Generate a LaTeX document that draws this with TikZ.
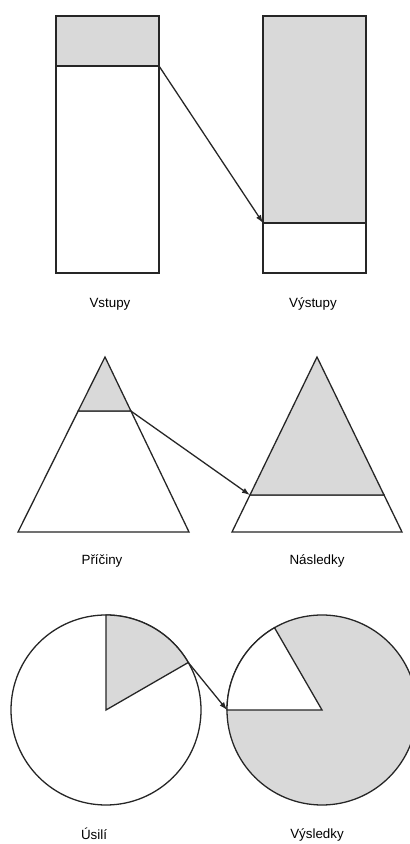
\documentclass[tikz,border=0pt]{standalone}
\usepackage{fontspec}
\setmainfont{Liberation Sans}
\usepackage{tikz}
\usetikzlibrary{arrows.meta, calc}
\definecolor{shade}{gray}{0.85}
\tikzset{
    part/.style={draw=black!85, line width=1.1pt},
    hot/.style={part, fill=shade},
    flow/.style={->, draw=black!85, line width=1.1pt},
    caption/.style={font=\fontsize{11.4}{13.7}\selectfont, inner sep=0pt}
}

\begin{document}
\begin{tikzpicture}[x=0.03cm, y=0.03cm, >={Latex[length=2.4mm, width=1.7mm]}]
    \useasboundingbox[fill=white] (0,0) rectangle (409,844);
    % bars
    \draw[hot]  (56,778) rectangle (159,828);
    \draw[part] (56,571) rectangle (159,778);
    \draw[hot]  (263,621) rectangle (366,828);
    \draw[part] (263,571) rectangle (366,621);
    \coordinate (inCut) at (159,778);  \coordinate (outCut) at (263,621);
    \draw[flow] (inCut)--(outCut);
    \node[caption] (inLbl) at (110,540) {Vstupy};
    \node[caption] (outLbl) at (313,540) {Výstupy};
    % pyramids
    \coordinate (cTop) at (105,487);  \coordinate (cL) at (18,312);  \coordinate (cR) at (189,312);
    \coordinate (cCutL) at ($(cTop)!0.309!(cL)$);  \coordinate (cCutR) at ($(cTop)!0.309!(cR)$);
    \draw[part] (cL)--(cR)--(cCutR)--(cCutL)--cycle;
    \draw[hot] (cTop)--(cCutR)--(cCutL)--cycle;
    \coordinate (eTop) at (317,487);  \coordinate (eL) at (232,312);  \coordinate (eR) at (402,312);
    \coordinate (eCutL) at ($(eTop)!0.789!(eL)$);  \coordinate (eCutR) at ($(eTop)!0.789!(eR)$);
    \draw[part] (eL)--(eR)--(eCutR)--(eCutL)--cycle;
    \draw[hot] (eTop)--(eCutR)--(eCutL)--cycle;
    \draw[flow] (cCutR)--(eCutL);
    \node[caption] (causeLbl) at (102,283) {Příčiny};
    \node[caption] (effectLbl) at (317,283) {Následky};
    % pies
    \coordinate (effort) at (106,134);  \coordinate (result) at (322,134);
    \coordinate (effCut) at ($(effort)+(30:95)$);  \coordinate (resCut) at ($(result)+(180:95)$);
    \draw[part] (effort) circle[radius=95];
    \draw[hot] (effort)--(effCut) arc[start angle=30, end angle=90, radius=95]--cycle;
    \draw[hot] (result) circle[radius=95];
    \draw[part, fill=white] (result)--($(result)+(120:95)$) arc[start angle=120, end angle=180, radius=95]--cycle;
    \draw[flow] (effCut)--(resCut);
    \node[caption] (effortLbl) at (94,10) {Úsilí};
    \node[caption] (resultLbl) at (317,9) {Výsledky};
\end{tikzpicture}
\end{document}
